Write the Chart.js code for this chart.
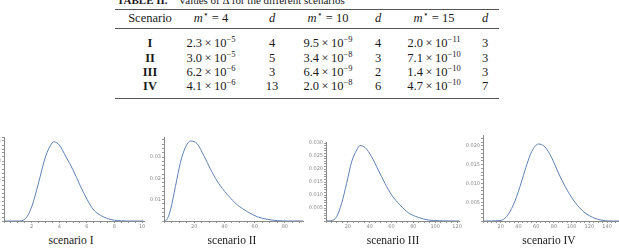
<!DOCTYPE html>
<html>
<head>
<meta charset="utf-8">
<script src="https://cdn.jsdelivr.net/npm/chart.js@4.4.1/dist/chart.umd.min.js"></script>
<style>
  body { margin:0; width:619px; height:250px; overflow:hidden; background:#fff; position:relative; font-family:"Liberation Serif", "Times New Roman", "DejaVu Serif", serif; color:#1a1a1a; }
  .t { position:absolute; transform:translate(-50%,-50%); white-space:nowrap; font-size:12.5px; line-height:1; font-family:"Liberation Serif", "Times New Roman", serif; }
  .t sup { font-size:8.5px; vertical-align:5px; line-height:0; }
  .rule { position:absolute; left:115px; width:384px; height:1px; background:#555; }
  canvas { position:absolute; }
  .cap { position:absolute; transform:translate(-50%,-50%); white-space:nowrap; font-size:11.5px; font-family:"Liberation Serif", "Times New Roman", serif; }
</style>
</head>
<body>
<div id="title" style="position:absolute;left:117px;top:-6px;font-size:11px;white-space:nowrap;"><b>TABLE II.</b>&nbsp;&nbsp;&nbsp;&nbsp;Values of Δ for the different scenarios</div>
<div class="rule" style="top:9px"></div>
<div class="rule" style="top:28px"></div>
<div class="rule" style="top:98px"></div>
<div id="tbl"></div>
<canvas id="c1"></canvas>
<canvas id="c2"></canvas>
<canvas id="c3"></canvas>
<canvas id="c4"></canvas>
<div class="cap" style="left:71px;top:240px">scenario I</div>
<div class="cap" style="left:232px;top:240px">scenario II</div>
<div class="cap" style="left:393px;top:240px">scenario III</div>
<div class="cap" style="left:549px;top:240px">scenario IV</div>
<script>
// table data
const scenarios = ['I', 'II', 'III', 'IV'];
const mStar = [4, 10, 15];
const delta4 = [['2.3', '−5'], ['3.0', '−5'], ['6.2', '−6'], ['4.1', '−6']];
const d4 = [4, 5, 3, 13];
const delta10 = [['9.5', '−9'], ['3.4', '−8'], ['6.4', '−9'], ['2.0', '−8']];
const d10 = [4, 3, 2, 6];
const delta15 = [['2.0', '−11'], ['7.1', '−10'], ['1.4', '−10'], ['4.7', '−10']];
const d15 = [3, 3, 3, 7];

// curves
const sc1X = [0, 1, 1.5, 2, 2.5, 3, 3.5, 3.62, 4, 4.5, 5, 5.5, 6, 6.5, 7, 7.5, 8, 8.5, 9, 10.1];
const sc1Y = [0, 0, 0.008, 0.07, 0.19, 0.32, 0.392, 0.396, 0.38, 0.32, 0.255, 0.18, 0.11, 0.055, 0.028, 0.012, 0.004, 0.001, 0, 0];
const sc2X = [0, 1.7, 4.3, 7.6, 10.9, 14.2, 17.5, 22, 26.4, 30.8, 35.2, 41.9, 48.5, 55.1, 61.7, 68.3, 75, 82, 92];
const sc2Y = [0, 0.0005, 0.0052, 0.0163, 0.0275, 0.0346, 0.0375, 0.0362, 0.0306, 0.0243, 0.0187, 0.0124, 0.0076, 0.0044, 0.002, 0.0008, 0.0002, 0, 0];
const sc3X = [0, 4.6, 9.8, 14.3, 18.9, 23.5, 28.1, 31.1, 35.7, 41.8, 47.9, 54, 60.1, 67.7, 75.3, 84.5, 93.6, 102.7, 122];
const sc3Y = [0, 0.0001, 0.0017, 0.0068, 0.0145, 0.0228, 0.0273, 0.029, 0.0283, 0.0247, 0.0196, 0.0145, 0.01, 0.0062, 0.0032, 0.0014, 0.0004, 0.0001, 0];
const sc4X = [0, 19.2, 26.7, 34.3, 41.8, 49.4, 55, 62.5, 70, 77.6, 85.1, 92.7, 102, 111.5, 120.9, 132.2, 143.5, 153.5];
const sc4Y = [0, 0.0001, 0.0012, 0.0043, 0.0092, 0.015, 0.0185, 0.0205, 0.0197, 0.0168, 0.0128, 0.0092, 0.0056, 0.0029, 0.0013, 0.0003, 0, 0];

// build table
const tbl = document.getElementById('tbl');
const colX = [150, 211, 272, 328, 378, 434, 485];
const headY = 18;
const rowY = [43, 57.5, 72, 86];
function cell(x, y, html, bold) {
	const el = document.createElement('div');
	el.className = 't';
	el.style.left = x + 'px';
	el.style.top = y + 'px';
	if (bold) el.style.fontWeight = 'bold';
	el.innerHTML = html;
	tbl.appendChild(el);
}
const sci = v => v[0] + '&thinsp;×&thinsp;10<sup>' + v[1] + '</sup>';
cell(colX[0], headY, 'Scenario');
mStar.forEach((m, i) => {
	cell(colX[1 + i * 2], headY, '<i>m</i><sup>⋆</sup> = ' + m);
	cell(colX[2 + i * 2], headY, '<i>d</i>');
});
scenarios.forEach((s, r) => {
	cell(colX[0], rowY[r], s, true);
	cell(colX[1], rowY[r], sci(delta4[r]));
	cell(colX[2], rowY[r], d4[r]);
	cell(colX[3], rowY[r], sci(delta10[r]));
	cell(colX[4], rowY[r], d10[r]);
	cell(colX[5], rowY[r], sci(delta15[r]));
	cell(colX[6], rowY[r], d15[r]);
});

// charts
const WY = 24, HX = 12, PT = 6, PR = 6;
const isMajor = (v, step) => Math.abs(v / step - Math.round(v / step)) < 1e-6;

function plot(id, xs, ys, area, sx, sy) {
	const cv = document.getElementById(id);
	const w = area.right - area.left + WY + PR;
	const h = area.bottom - area.top + PT + HX;
	cv.width = w; cv.height = h;
	cv.style.left = (area.left - WY) + 'px';
	cv.style.top = (area.top - PT) + 'px';
	const pts = xs.map((x, i) => ({x: x, y: ys[i]}));
	const tickFont = {family: 'DejaVu Sans', size: 5};
	new Chart(cv, {
		type: 'line',
		data: {datasets: [{
			data: pts,
			borderColor: 'rgb(94,129,181)',
			borderWidth: 1,
			pointRadius: 0,
			fill: false,
			cubicInterpolationMode: 'monotone'
		}]},
		options: {
			responsive: false,
			animation: false,
			devicePixelRatio: 1,
			layout: {padding: {top: PT, right: PR, left: 0, bottom: 0}},
			plugins: {legend: {display: false}, tooltip: {enabled: false}},
			scales: {
				x: {
					type: 'linear', min: 0, max: sx.max,
					afterFit: s => { s.height = HX; },
					border: {color: '#8a8a8a', width: 1},
					grid: {drawOnChartArea: false, tickLength: 2, color: '#999'},
					ticks: {
						stepSize: sx.minor, autoSkip: false, includeBounds: false, maxRotation: 0,
						padding: 1, font: tickFont, color: '#888',
						callback: v => (v > 0 && isMajor(v, sx.major)) ? String(Math.round(v)) : ''
					}
				},
				y: {
					type: 'linear', min: 0, max: sy.max,
					afterFit: s => { s.width = WY; },
					border: {color: '#8a8a8a', width: 1},
					grid: {drawOnChartArea: false, tickLength: 2, color: '#999'},
					ticks: {
						stepSize: sy.minor, autoSkip: false, includeBounds: false,
						padding: 1, font: tickFont, color: '#888',
						callback: v => (v > 0 && isMajor(v, sy.major)) ? v.toFixed(sy.dec) : ''
					}
				}
			}
		}
	});
}

plot('c1', sc1X, sc1Y, {left: 4, top: 137, right: 144, bottom: 221},
	{max: 10.14, major: 2, minor: 0.5}, {max: 0.42, major: 0.1, minor: 0.02, dec: 1});
plot('c2', sc2X, sc2Y, {left: 164, top: 137, right: 303, bottom: 221},
	{max: 92, major: 20, minor: 5}, {max: 0.0394, major: 0.01, minor: 0.002, dec: 2});
plot('c3', sc3X, sc3Y, {left: 326, top: 142, right: 459, bottom: 221},
	{max: 121.8, major: 20, minor: 5}, {max: 0.0304, major: 0.005, minor: 0.001, dec: 3});
plot('c4', sc4X, sc4Y, {left: 483, top: 135, right: 619, bottom: 221},
	{max: 153.5, major: 20, minor: 5}, {max: 0.0229, major: 0.005, minor: 0.001, dec: 3});
</script>
</body>
</html>
